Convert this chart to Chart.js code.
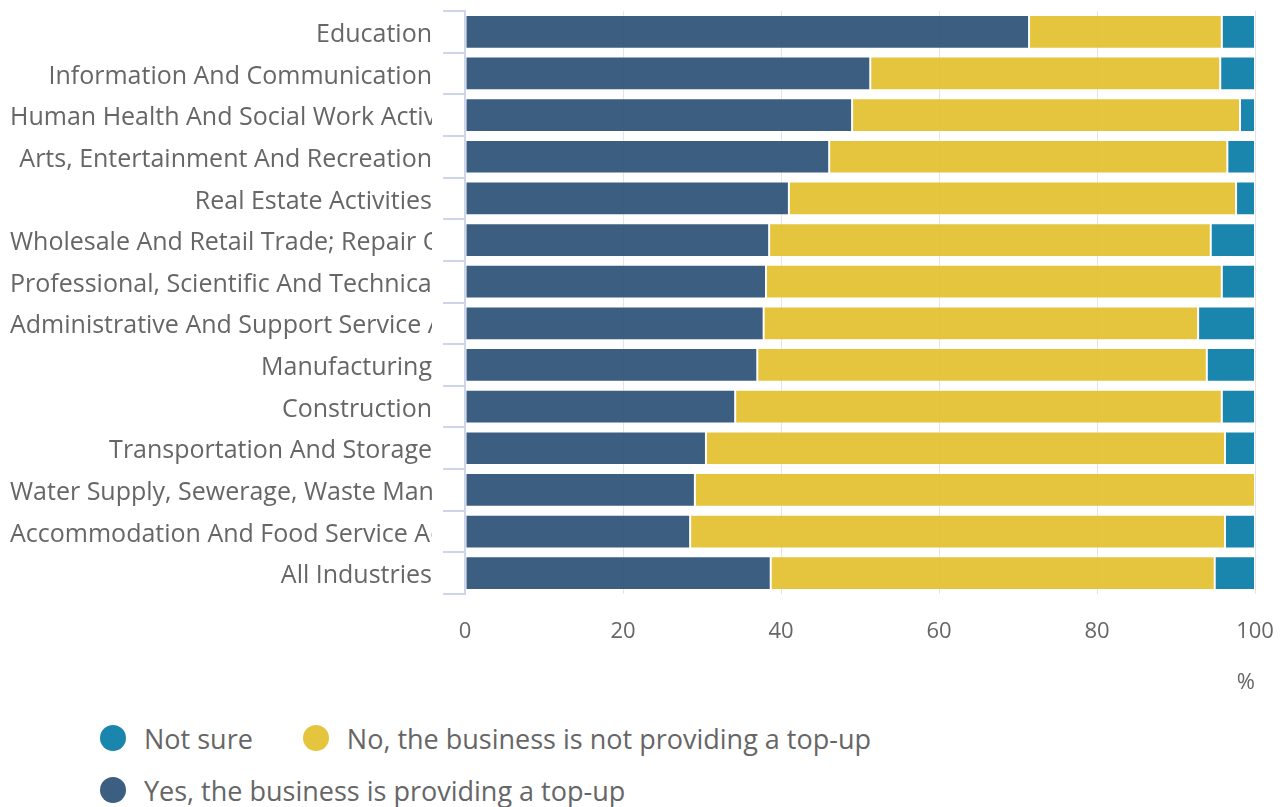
<!DOCTYPE html>
<html>
<head>
<meta charset="utf-8">
<script src="https://cdn.jsdelivr.net/npm/chart.js@4/dist/chart.umd.min.js"></script>
<style>
  html, body { margin: 0; background: #fff; font-family: "Open Sans", sans-serif; overflow: hidden; }
  #wrap { position: relative; width: 1284px; height: 700px; }
  #legend { position: absolute; left: 100px; top: 712px; width: 1000px; color: #666; font-size: 27px; }
  .row { display: flex; align-items: center; height: 52px; white-space: nowrap; }
  .item { display: flex; align-items: center; margin-right: 50px; }
  .dot { width: 26px; height: 26px; border-radius: 50%; margin-right: 18px; }
</style>
</head>
<body>
<div id="wrap"><canvas id="chart" width="1284" height="700"></canvas></div>
<div id="legend"></div>
<script>
// industry categories, top to bottom
var industries = [
    "Education",
    "Information And Communication",
    "Human Health And Social Work Activities",
    "Arts, Entertainment And Recreation",
    "Real Estate Activities",
    "Wholesale And Retail Trade; Repair Of Motor Vehicles And Motorcycles",
    "Professional, Scientific And Technical Activities",
    "Administrative And Support Service Activities",
    "Manufacturing",
    "Construction",
    "Transportation And Storage",
    "Water Supply, Sewerage, Waste Management And Remediation Activities",
    "Accommodation And Food Service Activities",
    "All Industries"
];
var yesTopUp = [71.4, 51.3, 49.0, 46.1, 41.0, 38.5, 38.1, 37.8, 37.0, 34.2, 30.5, 29.1, 28.5, 38.7];
var noTopUp = [24.4, 44.3, 49.1, 50.4, 56.6, 55.9, 57.7, 55.0, 56.9, 61.6, 65.7, 70.9, 67.7, 56.2];
var notSure = [4.2, 4.4, 1.9, 3.5, 2.4, 5.6, 4.2, 7.2, 6.1, 4.2, 3.8, 0, 3.8, 5.1];
var xTicks = [0, 20, 40, 60, 80, 100];

var grey = "#666";
var axisBlue = "#cdd5ea";

// draws the category labels, clipped at the axis like the original
var clippedLabels = {
    id: "clippedLabels",
    afterDraw: function (chart) {
        var ctx = chart.ctx;
        var yScale = chart.scales.y;
        var right = 432;
        ctx.save();
        ctx.beginPath();
        ctx.rect(0, 0, right, chart.height);
        ctx.clip();
        ctx.font = "25px 'Open Sans'";
        ctx.fillStyle = grey;
        ctx.textBaseline = "middle";
        for (var i = 0; i < industries.length; i++) {
            var y = yScale.getPixelForTick(i) + 3;
            var w = ctx.measureText(industries[i]).width;
            if (w > right - 10) {
                ctx.textAlign = "left";
                ctx.fillText(industries[i], 10, y);
            } else {
                ctx.textAlign = "right";
                ctx.fillText(industries[i], right, y);
            }
        }
        ctx.restore();
    }
};

var ctx = document.getElementById("chart");
var chart = new Chart(ctx, {
    type: "bar",
    data: {
        labels: industries,
        datasets: [
            { label: "Yes, the business is providing a top-up", data: yesTopUp, backgroundColor: "rgba(42,80,118,0.92)" },
            { label: "No, the business is not providing a top-up", data: noTopUp, backgroundColor: "rgba(226,192,44,0.92)" },
            { label: "Not sure", data: notSure, backgroundColor: "rgba(8,124,166,0.92)" }
        ]
    },
    options: {
        indexAxis: "y",
        responsive: false,
        animation: false,
        layout: { padding: { top: 11, right: 0, left: 0, bottom: 0 } },
        datasets: {
            bar: {
                categoryPercentage: 1,
                barPercentage: 0.81,
                borderWidth: 1,
                borderColor: "rgba(255,255,255,0.35)",
                borderSkipped: false
            }
        },
        plugins: {
            legend: { display: false },
            tooltip: { enabled: false }
        },
        scales: {
            x: {
                stacked: true,
                min: 0,
                max: 100,
                afterBuildTicks: function (scale) {
                    scale.ticks = xTicks.map(function (v) { return { value: v }; });
                },
                afterFit: function (scale) {
                    scale.height = 106;
                    scale.paddingRight = 29;
                },
                ticks: { color: grey, font: { family: "Open Sans", size: 22 }, padding: 25 },
                grid: { color: "#e4e4e4", drawTicks: false },
                border: { display: false },
                title: {
                    display: true,
                    text: "%",
                    align: "end",
                    color: grey,
                    font: { family: "Open Sans", size: 22 },
                    padding: { top: 4, bottom: 4 }
                }
            },
            y: {
                stacked: true,
                afterFit: function (scale) { scale.width = 465; },
                ticks: { display: false },
                grid: {
                    offset: true,
                    drawOnChartArea: false,
                    drawTicks: true,
                    tickLength: 22,
                    color: axisBlue,
                    lineWidth: 2
                },
                border: { color: axisBlue, width: 2 }
            }
        }
    },
    plugins: [clippedLabels]
});

// legend in the original order: Not sure, No, Yes
var legendRows = [[2, 1], [0]];
var legendHtml = "";
legendRows.forEach(function (row) {
    legendHtml += "<div class='row'>";
    row.forEach(function (i) {
        var ds = chart.data.datasets[i];
        legendHtml += "<div class='item'><span class='dot' style='background:" + ds.backgroundColor + "'></span>" + ds.label + "</div>";
    });
    legendHtml += "</div>";
});
document.getElementById("legend").innerHTML = legendHtml;
</script>
</body>
</html>
